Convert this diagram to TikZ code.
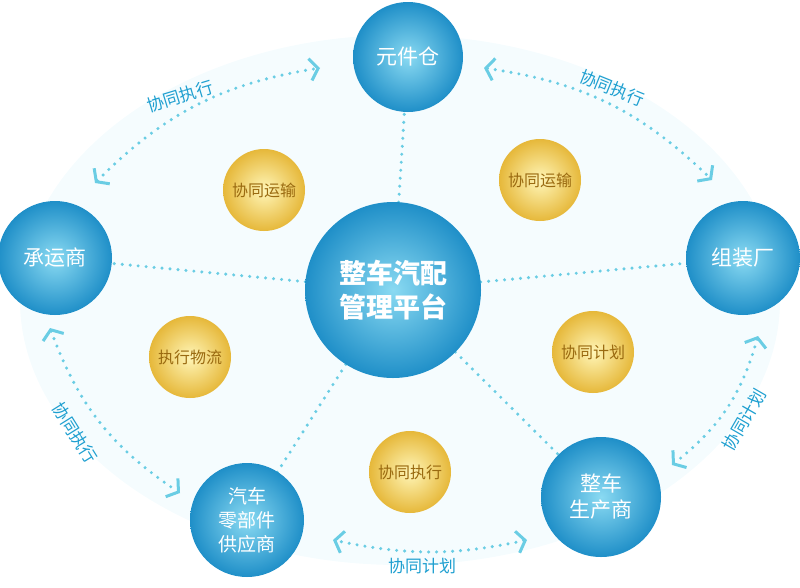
\documentclass[tikz,border=0pt]{standalone}
\usepackage{fontspec}
\setmainfont{Noto Sans CJK SC}
\usetikzlibrary{arrows.meta,backgrounds}
\definecolor{dotc}{HTML}{6ACDE4}
\definecolor{lblc}{HTML}{1E9FD0}
\definecolor{ytxt}{HTML}{9A6A10}
\definecolor{bin}{HTML}{8ADAF2}
\definecolor{bout}{HTML}{1F8FC8}
\definecolor{yin}{HTML}{FFF6B8}
\definecolor{yout}{HTML}{E6B83A}
\begin{document}
\begin{tikzpicture}[x=1pt,y=-1pt,
 blue/.style={circle,draw=none,inner color=bin,outer color=bout,text=white,align=center,font=\fontsize{21}{26}\selectfont,minimum size=#1},
 yel/.style={circle,draw=none,inner color=yin,outer color=yout,text=ytxt,font=\fontsize{16}{18}\selectfont,minimum size=82pt},
 dl/.style={dotc,line width=3.4pt,dash pattern=on 0pt off 8pt,line cap=round},
 arc/.style={dl,{Straight Barb[length=8pt,width=22pt,line width=3pt,line cap=butt]}-{Straight Barb[length=8pt,width=22pt,line width=3pt,line cap=butt]}},
 lbl/.style={text=lblc,font=\fontsize{17}{19}\selectfont}]
\useasboundingbox (0,0) rectangle (800,587);
\node[blue=176pt,font=\fontsize{27}{34}\selectfont\bfseries] (c) at (393,290) {整车汽配\\管理平台};
\node[blue=110pt] (a) at (408,57) {元件仓};
\node[blue=114pt] (r) at (743,258) {组装厂};
\node[blue=114pt] (l) at (55,258) {承运商};
\node[blue=114pt,font=\fontsize{19}{24}\selectfont] (s) at (247,520) {汽车\\零部件\\供应商};
\node[blue=120pt] (p) at (601,497) {整车\\生产商};
\begin{scope}[on background layer]
\fill[cyan!4] (400,300) ellipse [x radius=380,y radius=265];
\foreach \n in {a,r,l,s,p}{\draw[dl] (c.center) -- (\n.center);}
\end{scope}
\node[yel] (y1) at (264,190) {协同运输};
\node[yel] (y2) at (540,180) {协同运输};
\node[yel] (y3) at (190,357) {执行物流};
\node[yel] (y4) at (593,352) {协同计划};
\node[yel] (y5) at (410,472) {协同执行};
\coordinate (e1) at (320,68); \coordinate (e2) at (95,183);
\coordinate (e3) at (484,68); \coordinate (e4) at (712,180);
\coordinate (e5) at (758,336); \coordinate (e6) at (672,465);
\coordinate (e7) at (333,540); \coordinate (e8) at (527,540);
\coordinate (e9) at (50,328); \coordinate (e10) at (180,493);
\draw[arc] (e2) to[bend left=18] (e1);
\draw[arc] (e3) to[bend left=18] (e4);
\draw[arc] (e5) to[bend left=18] (e6);
\draw[arc] (e8) to[bend left=12] (e7);
\draw[arc] (e9) to[bend right=18] (e10);
\node[lbl,rotate=17] at (180,96) {协同执行};
\node[lbl,rotate=-22] at (612,88) {协同执行};
\node[lbl,rotate=-58] at (75,433) {协同执行};
\node[lbl,rotate=60] at (744,420) {协同计划};
\node[lbl] at (422,566) {协同计划};
\end{tikzpicture}
\end{document}
